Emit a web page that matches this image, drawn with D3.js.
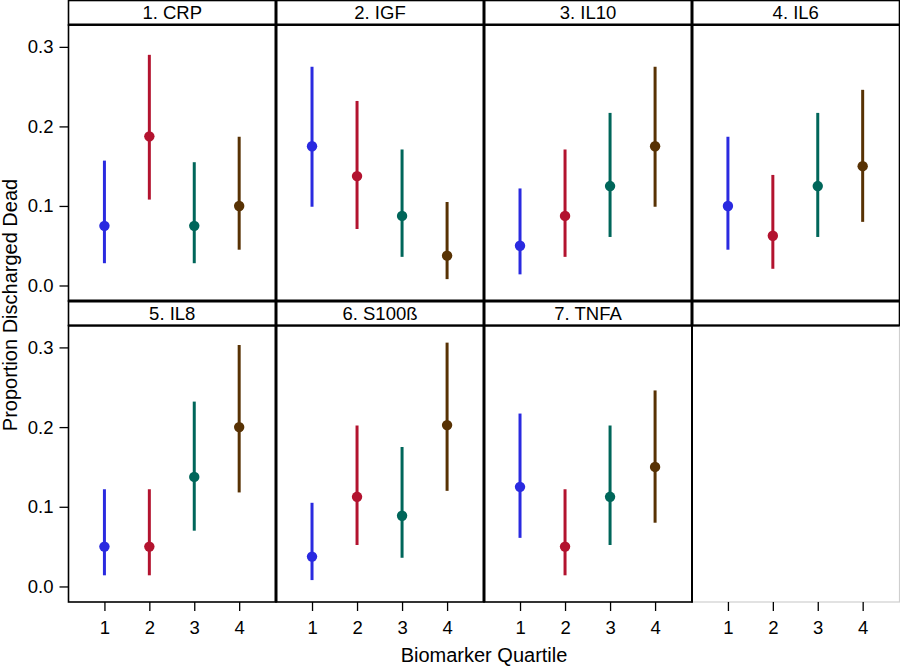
<!DOCTYPE html>
<html>
<head>
<meta charset="utf-8">
<script src="https://cdn.jsdelivr.net/npm/d3@7/dist/d3.min.js"></script>
<style>
  html, body { margin: 0; padding: 0; background: #fff; }
  svg { display: block; font-family: "Liberation Sans", Arial, sans-serif; }
</style>
</head>
<body>
<svg id="chart" width="900" height="668"></svg>
<script>
// ---- data ----
const panelNames = ["1. CRP", "2. IGF", "3. IL10", "4. IL6", "5. IL8", "6. S100ß", "7. TNFA"];
const quartiles = [1, 2, 3, 4];
const estimate = [
  [0.075, 0.1875, 0.075, 0.100],
  [0.175, 0.1375, 0.0875, 0.0375],
  [0.050, 0.0875, 0.125, 0.175],
  [0.100, 0.0625, 0.125, 0.150],
  [0.050, 0.050, 0.1375, 0.200],
  [0.0375, 0.1125, 0.0888, 0.2025],
  [0.125, 0.050, 0.1125, 0.150]
];
const lower = [
  [0.028, 0.108, 0.028, 0.045],
  [0.099, 0.071, 0.036, 0.008],
  [0.014, 0.036, 0.061, 0.099],
  [0.045, 0.021, 0.061, 0.080],
  [0.014, 0.014, 0.070, 0.118],
  [0.008, 0.052, 0.036, 0.120],
  [0.061, 0.014, 0.052, 0.080]
];
const upper = [
  [0.157, 0.290, 0.155, 0.187],
  [0.275, 0.232, 0.171, 0.105],
  [0.122, 0.171, 0.217, 0.275],
  [0.187, 0.139, 0.217, 0.246],
  [0.122, 0.122, 0.232, 0.303],
  [0.105, 0.202, 0.175, 0.306],
  [0.217, 0.122, 0.202, 0.246]
];
const yTicks = [0.0, 0.1, 0.2, 0.3];
const quartileColors = ["#2a2ae0", "#b3132f", "#00665a", "#583204"];
const xTitle = "Biomarker Quartile";
const yTitle = "Proportion Discharged Dead";

// ---- layout ----
const svg = d3.select("#chart");
const colEdges = [68.5, 276, 484, 692, 899.5];
const rowTops = [0.5, 301];
const headerH = 24.5;
const plotBottoms = [301, 602];
const nCols = 4;

function xScaleFor(col) {
  return d3.scaleLinear().domain([0.2, 4.82]).range([colEdges[col], colEdges[col + 1]]);
}
function yScaleFor(row) {
  return d3.scaleLinear().domain([-0.0195, 0.3275]).range([plotBottoms[row], rowTops[row] + headerH]);
}

// cells
for (let i = 0; i < 8; i++) {
  const row = Math.floor(i / nCols), col = i % nCols;
  const x0 = colEdges[col], x1 = colEdges[col + 1];
  const top = rowTops[row], hb = top + headerH, bot = plotBottoms[row];
  const g = svg.append("g");
  const hasData = i < panelNames.length;

  // plot area border
  g.append("rect")
    .attr("x", x0).attr("y", hb).attr("width", x1 - x0).attr("height", bot - hb)
    .attr("fill", "none")
    .attr("stroke", hasData ? "#000" : "#cfcfcf")
    .attr("stroke-width", hasData ? 1.6 : 1.2);

  // header strip
  g.append("rect")
    .attr("x", x0).attr("y", top).attr("width", x1 - x0).attr("height", headerH)
    .attr("fill", "#fff").attr("stroke", "#000").attr("stroke-width", 1.6);

  if (hasData) {
    g.append("text")
      .attr("x", (x0 + x1) / 2).attr("y", top + headerH / 2 + 6.5)
      .attr("text-anchor", "middle")
      .attr("font-size", 18.5)
      .attr("fill", "#000")
      .text(panelNames[i]);

    const xs = xScaleFor(col), ys = yScaleFor(row);
    quartiles.forEach((q, k) => {
      g.append("line")
        .attr("x1", xs(q)).attr("x2", xs(q))
        .attr("y1", ys(lower[i][k])).attr("y2", ys(upper[i][k]))
        .attr("stroke", quartileColors[k]).attr("stroke-width", 3);
      g.append("circle")
        .attr("cx", xs(q)).attr("cy", ys(estimate[i][k])).attr("r", 5.2)
        .attr("fill", quartileColors[k]);
    });
  }
}

// thicker interior separators
[276, 484, 692].forEach(x => {
  svg.append("line").attr("x1", x).attr("x2", x).attr("y1", 0).attr("y2", 326)
    .attr("stroke", "#000").attr("stroke-width", 3);
});
[276, 484].forEach(x => {
  svg.append("line").attr("x1", x).attr("x2", x).attr("y1", 326).attr("y2", 602)
    .attr("stroke", "#000").attr("stroke-width", 3);
});
svg.append("line").attr("x1", 692).attr("x2", 692).attr("y1", 326).attr("y2", 602.8)
  .attr("stroke", "#000").attr("stroke-width", 2);
svg.append("line").attr("x1", 68.5).attr("x2", 899.5).attr("y1", 301).attr("y2", 301)
  .attr("stroke", "#000").attr("stroke-width", 3);
[24.5, 325.5].forEach(y => {
  svg.append("line").attr("x1", 68.5).attr("x2", 899.5).attr("y1", y).attr("y2", y)
    .attr("stroke", "#000").attr("stroke-width", 2);
});

// y axes (left column)
[0, 1].forEach(row => {
  const ys = yScaleFor(row);
  const ax = d3.axisLeft(ys).tickValues(yTicks).tickFormat(d3.format(".1f"))
    .tickSize(9).tickPadding(6);
  const g = svg.append("g").attr("transform", `translate(${colEdges[0]},0)`).call(ax);
  g.select(".domain").remove();
  g.selectAll(".tick line").attr("stroke", "#000").attr("stroke-width", 1.3);
  g.selectAll(".tick text").attr("font-size", 18.5).attr("fill", "#000")
    .attr("font-family", "Liberation Sans, Arial, sans-serif");
});

// x axes (bottom row, all columns)
for (let col = 0; col < nCols; col++) {
  const xs = xScaleFor(col);
  const ax = d3.axisBottom(xs).tickValues(quartiles).tickFormat(d3.format("d"))
    .tickSize(9).tickPadding(10);
  const g = svg.append("g").attr("transform", `translate(0,${plotBottoms[1]})`).call(ax);
  g.select(".domain").remove();
  g.selectAll(".tick line").attr("stroke", "#000").attr("stroke-width", 1.3);
  g.selectAll(".tick text").attr("font-size", 18.5).attr("fill", "#000")
    .attr("font-family", "Liberation Sans, Arial, sans-serif");
}

// axis titles
svg.append("text")
  .attr("x", (colEdges[0] + colEdges[4]) / 2).attr("y", 662)
  .attr("text-anchor", "middle").attr("font-size", 20).attr("fill", "#000")
  .text(xTitle);
svg.append("text")
  .attr("transform", "translate(16.5,305) rotate(-90)")
  .attr("text-anchor", "middle").attr("font-size", 20).attr("fill", "#000")
  .text(yTitle);
</script>
</body>
</html>
